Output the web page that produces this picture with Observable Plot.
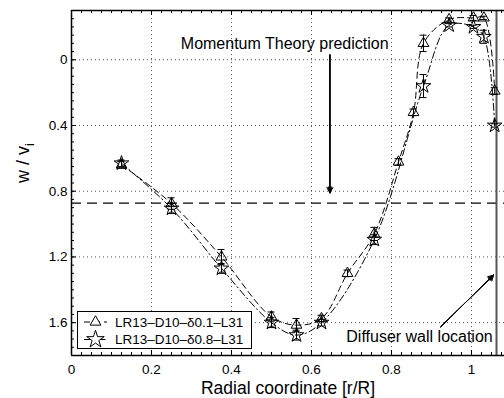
<!DOCTYPE html>
<html><head><meta charset="utf-8">
<script src="https://cdn.jsdelivr.net/npm/d3@7"></script>
<script src="https://cdn.jsdelivr.net/npm/@observablehq/plot@0.6"></script>
<style>body{margin:0;background:#fff} svg{display:block}</style>
</head><body><div id="chart"></div>
<script>
// ---- data ----
const xTri  = [0.125, 0.25, 0.375, 0.5, 0.5625, 0.625, 0.69, 0.757, 0.8175, 0.855, 0.88, 0.944, 1.005, 1.031, 1.058];
const yTri  = [0.64, 0.875, 1.20, 1.565, 1.615, 1.575, 1.30, 1.06, 0.622, 0.32, -0.10, -0.245, -0.255, -0.255, 0.19];
const eTri  = [0.02, 0.035, 0.045, 0.03, 0.04, 0.02, 0.02, 0.04, 0.02, 0.02, 0.05, 0.01, 0.015, 0.01, 0.02];
const xStar = [0.125, 0.25, 0.375, 0.5, 0.5625, 0.625, 0.757, 0.88, 0.944, 1.005, 1.031, 1.058];
const yStar = [0.63, 0.905, 1.27, 1.60, 1.676, 1.60, 1.095, 0.16, -0.21, -0.20, -0.14, 0.40];
const eStar = [0.02, 0.03, 0.03, 0.03, 0.03, 0.02, 0.03, 0.07, 0.01, 0.01, 0.04, 0.01];
const xTicks = [0, 0.2, 0.4, 0.6, 0.8, 1];
const yTicks = [0, 0.4, 0.8, 1.2, 1.6];
const seriesNames = ["LR13\u2013D10\u2013\u03b40.1\u2013L31", "LR13\u2013D10\u2013\u03b40.8\u2013L31"];
const momentumValue = 0.872;
const wallX = 1.0625;
const xDomain = [0, 1.0825];
const yDomain = [-0.3, 1.8];
const annotations = [
  {text: "Momentum Theory prediction", x: 0.533, y: -0.097},
  {text: "Diffuser wall location", x: 0.87, y: 1.686}
];
const arrows = [
  {x1: 0.646, y1: -0.03, x2: 0.646, y2: 0.81},
  {x1: 0.923, y1: 1.625, x2: 1.055, y2: 1.311}
];

// ---- build ----
const W = 504, H = 398, mL = 71, mR = 0, mT = 10, mB = 43;
const pw = W - mL - mR, ph = H - mT - mB;
const tri = xTri.map((x, i) => ({x, y: yTri[i], e: eTri[i]}));
const star = xStar.map((x, i) => ({x, y: yStar[i], e: eStar[i]}));
const minorX = d3.range(0, xDomain[1], 0.025);
const minorY = d3.range(yDomain[0], yDomain[1] + 1e-9, 0.05);
const font = "Liberation Sans, Arial, Helvetica, sans-serif";
const triDash = "6,4", starDash = "7,3,1.5,3";

function series(data, symbol, r, dash) {
  return [
    Plot.line(data, {x: "x", y: "y", curve: "catmull-rom", stroke: "black", strokeWidth: 1, strokeDasharray: dash}),
    Plot.ruleX(data, {x: "x", y1: d => d.y - d.e, y2: d => d.y + d.e, stroke: "black", strokeWidth: 1}),
    Plot.ruleY(data, {y: d => d.y - d.e, x1: "x", x2: "x", insetLeft: -3.5, insetRight: -3.5, stroke: "black"}),
    Plot.ruleY(data, {y: d => d.y + d.e, x1: "x", x2: "x", insetLeft: -3.5, insetRight: -3.5, stroke: "black"}),
    Plot.dot(data, {x: "x", y: "y", symbol, r, stroke: "black", fill: "none", strokeWidth: 1})
  ];
}

const plot = Plot.plot({
  width: W, height: H,
  marginLeft: mL, marginRight: mR, marginTop: mT, marginBottom: mB,
  style: {fontFamily: font, fontSize: "13.5px", background: "white", color: "black", overflow: "visible"},
  x: {domain: xDomain},
  y: {domain: yDomain, reverse: true},
  marks: [
    // grid
    Plot.ruleX(xTicks.filter(d => d > 0), {x: d => d, stroke: "#555", strokeDasharray: "1,3"}),
    Plot.ruleY(yTicks, {y: d => d, stroke: "#555", strokeDasharray: "1,3"}),
    // minor / major ticks (inward)
    Plot.ruleX(minorX, {x: d => d, insetTop: ph - 3, stroke: "black"}),
    Plot.ruleX(minorX, {x: d => d, insetBottom: ph - 3, stroke: "black"}),
    Plot.ruleY(minorY, {y: d => d, insetRight: pw - 3, stroke: "black"}),
    Plot.ruleX(xTicks, {x: d => d, insetTop: ph - 5, stroke: "black"}),
    Plot.ruleX(xTicks, {x: d => d, insetBottom: ph - 5, stroke: "black"}),
    Plot.ruleY(yTicks, {y: d => d, insetRight: pw - 5, stroke: "black"}),
    // reference lines
    Plot.ruleY([momentumValue], {y: d => d, stroke: "black", strokeWidth: 1.2, strokeDasharray: "10,6"}),
    Plot.ruleX([wallX], {x: d => d, stroke: "#555", strokeWidth: 2}),
    // series
    ...series(tri, "triangle", 4, triDash),
    ...series(star, "star", 4.6, starDash),
    // frame
    Plot.ruleX([xDomain[0]], {x: d => d, stroke: "black", strokeWidth: 1.5}),
    Plot.ruleY([yDomain[0], yDomain[1]], {y: d => d, stroke: "black", strokeWidth: 1.5}),
    // axes
    Plot.axisX(xTicks, {anchor: "bottom", tickSize: 0, tickPadding: 9, fontSize: 13.5, label: null, tickFormat: d => String(d)}),
    Plot.axisY(yTicks, {anchor: "left", tickSize: 0, tickPadding: 4, fontSize: 13.5, label: null, tickFormat: d => String(d)}),
    Plot.text(["Radial coordinate [r/R]"], {frameAnchor: "bottom", dy: 38.5, fontSize: 17.5, fill: "black"}),
    Plot.text(["w / v"], {frameAnchor: "left", dx: -48, rotate: -90, fontSize: 18, fill: "black", className: "ylab"}),
    // annotations
    Plot.text(annotations, {x: "x", y: "y", text: "text", fontSize: 16, fill: "black"}),
    ...[60, 40, 25, 12].map(a => Plot.arrow(arrows, {x1: "x1", y1: "y1", x2: "x2", y2: "y2", headAngle: a, headLength: 9, stroke: "black", strokeWidth: 1}))
  ]
});

// subscript for y label
d3.select(plot).select(".ylab text").append("tspan").attr("dy", "0.35em").attr("font-size", "13px").text("i");

// legend
const svg = d3.select(plot);
const lg = svg.append("g").attr("font-family", font).attr("text-anchor", "start");
lg.append("rect").attr("x", 77.5).attr("y", 311.5).attr("width", 174).attr("height", 37)
  .attr("fill", "white").attr("stroke", "black").attr("stroke-width", 1);
const rows = [
  {y: 322, sym: d3.symbolTriangle, r: 4, dash: triDash, name: seriesNames[0]},
  {y: 339.5, sym: d3.symbolStar, r: 5.5, dash: starDash, name: seriesNames[1]}
];
rows.forEach(rw => {
  lg.append("line").attr("x1", 84).attr("x2", 107).attr("y1", rw.y).attr("y2", rw.y)
    .attr("stroke", "black").attr("stroke-dasharray", rw.dash);
  lg.append("path").attr("d", d3.symbol(rw.sym, Math.PI * rw.r * rw.r)())
    .attr("transform", `translate(95.5,${rw.y})`).attr("fill", "white").attr("stroke", "black");
  lg.append("text").attr("x", 115).attr("y", rw.y).attr("dy", "0.35em").attr("text-anchor", "start")
    .attr("font-size", "13.5px").attr("fill", "black").text(rw.name);
});

document.getElementById("chart").appendChild(plot);
</script>
</body></html>
